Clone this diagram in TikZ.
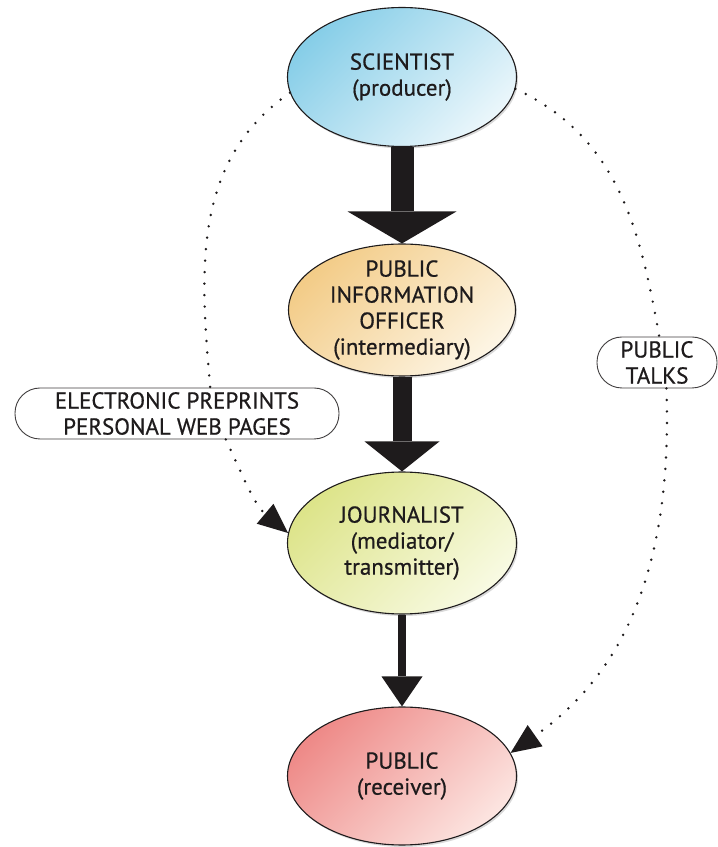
\documentclass[tikz,border=0pt]{standalone}
\usepackage{fontspec}
\setmainfont{PT Sans}[FakeBold=0.6]
\usetikzlibrary{arrows.meta,positioning,shapes.geometric,shadows}

\definecolor{ink}{RGB}{30,27,28}
\definecolor{sciA}{RGB}{135,206,232}
\definecolor{sciB}{RGB}{234,246,251}
\definecolor{pioA}{RGB}{243,204,136}
\definecolor{pioB}{RGB}{253,245,228}
\definecolor{jouA}{RGB}{221,228,138}
\definecolor{jouB}{RGB}{248,250,226}
\definecolor{pubA}{RGB}{238,138,136}
\definecolor{pubB}{RGB}{252,228,224}

\begin{document}
\begin{tikzpicture}[x=1pt, y=1pt, node distance={233pt},
  main/.style = {draw=ink, ellipse, line width=1.1pt, minimum width=229pt, minimum height=139pt, inner sep=0pt, align=center, text=ink, font=\fontsize{23}{26}\selectfont, drop shadow={shadow xshift=1.5pt, shadow yshift=-2pt, opacity=0.3}},
  tag/.style = {draw=ink!85, fill=white, rounded corners=25pt, minimum height=51pt, line width=0.9pt, inner sep=0pt, align=center, text=ink, font=\fontsize{23}{26}\selectfont},
  link/.style = {ink, line width=2.7pt, line cap=round, dash pattern=on 0pt off 11.5pt},
  tip/.style = {-{Triangle[length=30pt, width=26pt, line width=0pt]}}]
\useasboundingbox (0,0) rectangle (718,847);

\node[main, top color=sciA, bottom color=sciB, shading angle=45] (sci) at (402,770) {SCIENTIST\\(producer)};
\node[main, top color=pioA, bottom color=pioB, shading angle=45, minimum width=227pt, minimum height=132pt, inner sep=-7pt] (pio) [below of=sci] {PUBLIC\\INFORMATION\\OFFICER\\(intermediary)};
\node[main, top color=jouA, bottom color=jouB, shading angle=45, minimum height=142pt] (jour) [below of=pio] {JOURNALIST\\(mediator/\\transmitter)};
\node[main, top color=pubA, bottom color=pubB, shading angle=45, minimum height=138pt] (pub) [below of=jour] {PUBLIC\\(receiver)};

\node[tag, minimum width=324pt] (epp) at (177,433.5) {ELECTRONIC PREPRINTS\\PERSONAL WEB PAGES};
\node[tag, minimum width=120pt] (talks) at (657,484.5) {PUBLIC\\TALKS};

% main channel
\draw[ink, line width=23pt, -{Triangle[length=32pt, width=109pt, line width=0pt]}] (sci) -- (pio);
\draw[ink, line width=19pt, -{Triangle[length=30pt, width=75pt, line width=0pt]}] (pio) -- (jour);
\draw[ink, line width=8pt, -{Triangle[length=30pt, width=41pt, line width=0pt]}] (jour) -- (pub);

% side channels
\draw[link] (sci.188) to [out=215, in=95] (epp.38);
\draw[link, tip] (epp.-28) to [out=-65, in=140] (jour.175);
\draw[link] (sci.-6) to [out=-25, in=100] (talks.85);
\draw[link, tip] (talks.-70) to [out=-88, in=35] (pub.12);
\end{tikzpicture}
\end{document}
